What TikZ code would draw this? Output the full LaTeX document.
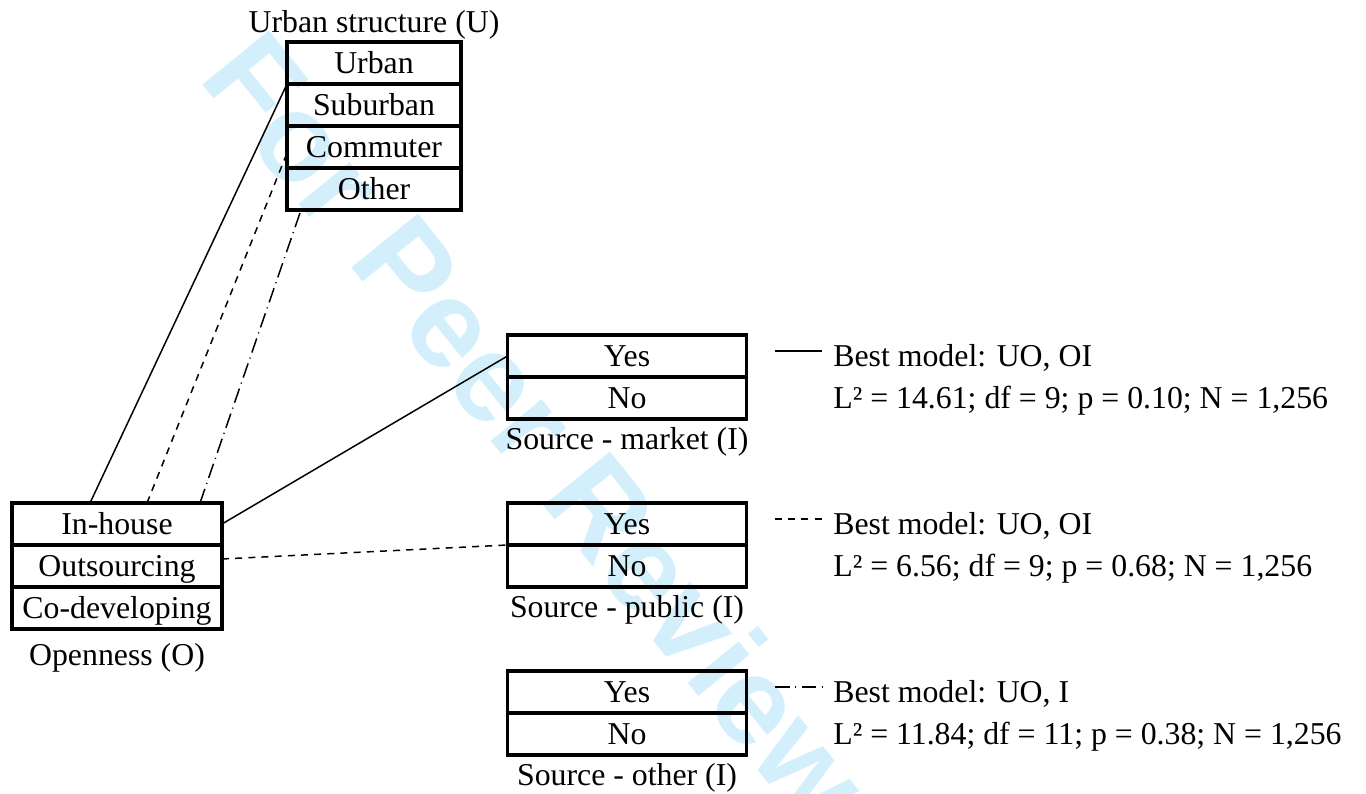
\documentclass[tikz,border=0pt]{standalone}
\usepackage{fontspec}
\setmainfont{Liberation Serif}
\newfontfamily\wmfont{Liberation Sans}
\usetikzlibrary{positioning}
\definecolor{wmblue}{RGB}{212,239,252}

\tikzset{
  cell/.style={draw, line width=1.9pt, outer sep=0pt, inner sep=0pt,
    minimum height=0.84cm, text height=12pt, text depth=0pt},
  ucell/.style={cell, minimum width=3.48cm},
  ocell/.style={cell, minimum width=4.2cm},
  icell/.style={cell, minimum width=4.78cm},
  title/.style={anchor=base, inner sep=0pt},
  legtext/.style={anchor=base west, inner sep=0pt},
  link/.style={line width=0.85pt},
  dashlink/.style={link, dash pattern=on 4pt off 3.5pt},
  dotlink/.style={link, dash pattern=on 8.5pt off 3pt on 0.6pt off 3pt}
}

\begin{document}
\begin{tikzpicture}[x=0.02cm, y=-0.02cm, every node/.style={font=\fontsize{18.1}{21}\selectfont}]
\useasboundingbox (0,0) rectangle (1366,794);
% watermark
\begin{scope}
  \clip (0,0) rectangle (1366,794);
  \node[rotate=-51, text=wmblue, inner sep=0pt,
    font=\wmfont\bfseries\fontsize{71}{71}\selectfont] (stamp) at (538,428) {For Peer Review};
\end{scope}

% urban structure, top
\node[ucell] (urban) at (374,63) {Urban};
\node[ucell, below=0pt of urban] (suburban) {Suburban};
\node[ucell, below=0pt of suburban] (commuter) {Commuter};
\node[ucell, below=0pt of commuter] (uother) {Other};
\node[title] (ulabel) at ([yshift=0.2cm]urban.north) {Urban structure (U)};

% openness, left
\node[ocell] (inhouse) at (117,524) {In-house};
\node[ocell, below=0pt of inhouse] (outsourcing) {Outsourcing};
\node[ocell, below=0pt of outsourcing] (codev) {Co-developing};
\node[title] (olabel) at ([yshift=-0.73cm]codev.south) {Openness (O)};

% sources, listed top to bottom
\node[icell] (marketyes) at (627,356) {Yes};
\node[icell, below=0pt of marketyes] (marketno) {No};
\node[title] (marketlabel) at ([yshift=-0.62cm]marketno.south) {Source - market (I)};
\node[icell] (publicyes) at (627,524) {Yes};
\node[icell, below=0pt of publicyes] (publicno) {No};
\node[title] (publiclabel) at ([yshift=-0.62cm]publicno.south) {Source - public (I)};
\node[icell] (otheryes) at (627,692) {Yes};
\node[icell, below=0pt of otheryes] (otherno) {No};
\node[title] (otherlabel) at ([yshift=-0.62cm]otherno.south) {Source - other (I)};

% links
\draw[link] ([xshift=-0.54cm]inhouse.north) -- (suburban.north west);
\draw[dashlink] ([xshift=0.6cm]inhouse.north) -- ([yshift=-0.12cm]commuter.west);
\draw[dotlink] ([xshift=1.66cm]inhouse.north) -- ([xshift=0.28cm]uother.south west);
\draw[link] (inhouse.east) -- (marketyes.west);
\draw[dashlink] ([yshift=0.14cm]outsourcing.east) -- (publicyes.south west);

% legend
\node[legtext] (bestA) at (833,366) {Best model: UO, OI};
\node[legtext] (fitA) at (833,408) {L² = 14.61; df = 9; p = 0.10; N = 1,256};
\node[legtext] (bestB) at (833,534) {Best model: UO, OI};
\node[legtext] (fitB) at (833,576) {L² = 6.56; df = 9; p = 0.68; N = 1,256};
\node[legtext] (bestC) at (833,702) {Best model: UO, I};
\node[legtext] (fitC) at (833,744) {L² = 11.84; df = 11; p = 0.38; N = 1,256};
\coordinate (keyA) at (775,351);
\coordinate (keyB) at (775,519);
\coordinate (keyC) at (775,687);
\draw[link] (keyA) -- ++(47,0) coordinate (keyAend);
\draw[dashlink] (keyB) -- ++(47,0) coordinate (keyBend);
\draw[dotlink] (keyC) -- ++(47,0) coordinate (keyCend);
\end{tikzpicture}
\end{document}
